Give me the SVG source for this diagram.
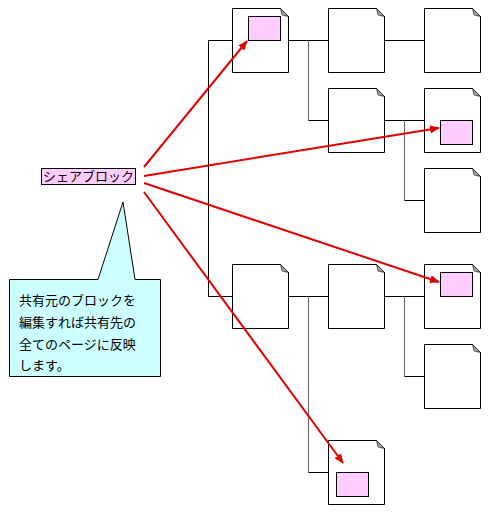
<svg xmlns="http://www.w3.org/2000/svg" width="488" height="513" viewBox="0 0 488 513">
<defs>
<style>
.page{fill:#fff;stroke:#000;stroke-width:1}
.fold{fill:#aaa;stroke:#000;stroke-width:0.6}
.blk{fill:#ffccff;stroke:#000;stroke-width:1}
.tree{fill:none;stroke:#000;stroke-width:1}
.treeg{fill:none;stroke:#666;stroke-width:1}
.arrow{fill:none;stroke:#e00000;stroke-width:2}
.txt{font-family:"Noto Sans CJK JP","Noto Sans CJK SC",sans-serif;font-size:13px;fill:#000}
</style>
<marker id="ah" markerWidth="10" markerHeight="8" refX="9" refY="4" orient="auto" markerUnits="userSpaceOnUse">
<path d="M0,0 L10,4 L0,8 z" fill="#e00000"/>
</marker>
<g id="pg">
<path class="page" d="M0.5,0.5 H48.5 L56.5,8.5 V64.5 H0.5 Z"/>
<path class="fold" d="M48.5,0.5 L50,7 L56.5,8.5 Z"/>
</g>
</defs>
<rect width="488" height="513" fill="#fff"/>
<g id="tree-lines">
<path class="tree" d="M232,40.5 H208.5 V296.5 H232"/>
<path class="tree" d="M288,40.5 H328 M384,40.5 H424"/>
<path class="treeg" d="M308.5,40.5 V120.5"/>
<path class="tree" d="M308.5,120.5 H328 M384,120.5 H424"/>
<path class="treeg" d="M404.5,120.5 V200.5"/>
<path class="tree" d="M404.5,200.5 H424"/>
<path class="tree" d="M288,296.5 H328 M384,296.5 H424"/>
<path class="treeg" d="M308.5,296.5 V472.5"/>
<path class="tree" d="M308.5,472.5 H328"/>
<path class="treeg" d="M404.5,296.5 V376.5"/>
<path class="tree" d="M404.5,376.5 H424"/>
</g>
<g id="page-r1c1"><use href="#pg" x="232" y="8"/><rect class="blk" x="248.5" y="16.5" width="32" height="24"/></g>
<g id="page-r1c2"><use href="#pg" x="328" y="8"/></g>
<g id="page-r1c3"><use href="#pg" x="424" y="8"/></g>
<g id="page-r2c2"><use href="#pg" x="328" y="88"/></g>
<g id="page-r2c3"><use href="#pg" x="424" y="88"/><rect class="blk" x="440.5" y="120.5" width="32" height="24"/></g>
<g id="page-r3c3"><use href="#pg" x="424" y="168"/></g>
<g id="page-r4c1"><use href="#pg" x="232" y="264"/></g>
<g id="page-r4c2"><use href="#pg" x="328" y="264"/></g>
<g id="page-r4c3"><use href="#pg" x="424" y="264"/><rect class="blk" x="440.5" y="272.5" width="32" height="24"/></g>
<g id="page-r5c3"><use href="#pg" x="424" y="344"/></g>
<g id="page-r6c2"><use href="#pg" x="328" y="440"/><rect class="blk" x="336.5" y="472.5" width="32" height="24"/></g>
<g id="share-block">
<rect class="blk" x="41.5" y="168.5" width="94" height="16"/>
<text class="txt" x="88.5" y="181" text-anchor="middle" font-size="12">シェアブロック</text>
</g>
<g id="callout">
<path d="M9.5,279.5 H98 L123,202 L135,279.5 H160.5 V376.5 H9.5 Z" fill="#ccffff" stroke="#000" stroke-width="1"/>
<text class="txt" x="19" y="305">共有元のブロックを</text>
<text class="txt" x="19" y="327">編集すれば共有先の</text>
<text class="txt" x="19" y="349">全てのページに反映</text>
<text class="txt" x="19" y="370">します。</text>
</g>
<g id="connectors">
<line class="arrow" x1="144" y1="167" x2="247" y2="41" marker-end="url(#ah)"/>
<line class="arrow" x1="144" y1="176" x2="439" y2="128" marker-end="url(#ah)"/>
<line class="arrow" x1="144" y1="183" x2="439" y2="282" marker-end="url(#ah)"/>
<line class="arrow" x1="144" y1="192" x2="343" y2="463" marker-end="url(#ah)"/>
</g>
</svg>
